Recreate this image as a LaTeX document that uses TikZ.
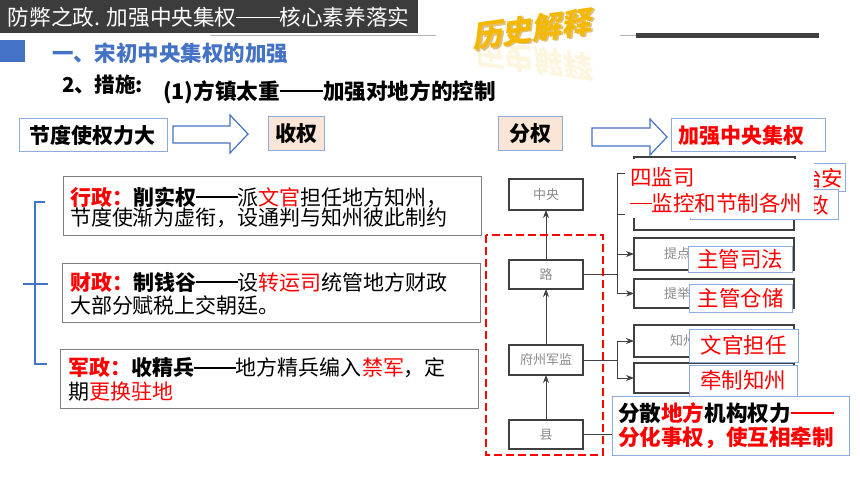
\documentclass[tikz,border=0pt]{standalone}
\usepackage{fontspec}
\setmainfont{Noto Sans CJK SC}
\newfontfamily\goldfont{Noto Sans CJK SC}[FakeSlant=0.25]
\usetikzlibrary{arrows.meta}
\definecolor{hdr}{HTML}{3C3C3C}
\definecolor{myblue}{HTML}{4472C4}
\definecolor{lblue}{HTML}{8FAADC}
\definecolor{peach}{HTML}{FBE5D6}
\definecolor{gold}{HTML}{F5B800}
\definecolor{goldd}{HTML}{C08000}
\definecolor{dgray}{HTML}{404040}
\definecolor{mgray}{HTML}{7F7F7F}
\definecolor{lgray}{HTML}{8A8A8A}
\newcommand\myfs[1]{\fontsize{#1pt}{#1pt}\selectfont}
% full-width dashes drawn as rules
\newcommand\dashn[1]{\rule[0.33em]{#1em}{0.06em}}
\newcommand\dashb[1]{\rule[0.32em]{#1em}{0.09em}}
\begin{document}
\begin{tikzpicture}[x=1pt,y=-1pt,
  every node/.style={inner sep=0pt,outer sep=0pt},
  bbox/.style={draw=lblue,line width=1pt,fill=white,rectangle,anchor=north west},
  pbox/.style={bbox,fill=peach},
  tbox/.style={draw=mgray,line width=1pt,rectangle,anchor=north west},
  obox/.style={draw=dgray,line width=1.1pt,fill=white,rectangle,anchor=north west},
  otext/.style={anchor=west,text=lgray,font=\myfs{13}},
  ctext/.style={text=lgray,font=\myfs{13}},
  lbox/.style={draw=lblue,line width=1pt,fill=white,rectangle,anchor=north west},
  tline/.style={anchor=west,font=\myfs{21}},
  rline/.style={anchor=west,text=red,font=\myfs{21.5}},
  conn/.style={draw=dgray,line width=0.9pt},
  arr/.style={conn,-{Stealth[length=8pt,width=6pt]}},
  blockarrow/.style={draw=myblue,line width=1.2pt,fill=white,line join=miter}
]
\useasboundingbox (0,0) rectangle (860,484);
\fill[white] (0,0) rectangle (860,484);

% header
\node[fill=hdr,minimum width=418pt,minimum height=33pt,anchor=north west] (hdr) at (0,0) {};
\node[anchor=west,text=white,font=\myfs{21.6}] (hdrt) at (8,17) {防弊之政. 加强中央集权\dashn{2}核心素养落实};
\draw[mgray!60,line width=0.8pt] (210,35) -- (436,35);
\draw[mgray!60,line width=0.8pt] (620,35) -- (636,35);
\draw[dgray,line width=5pt] (636,35.5) -- (819,35.5);

% golden title with reflection
\node[rotate=-8,yscale=-1,opacity=0.13,text=gold,font=\goldfont\bfseries\myfs{30}] (goldr) at (531,60) {历史解释};
\node[rotate=8,text=goldd,opacity=0.5,font=\goldfont\bfseries\myfs{30}] (golds) at (533,30.5) {历史解释};
\node[rotate=8,text=gold,font=\goldfont\bfseries\myfs{30}] (gold) at (531,29) {历史解释};

% section title
\node[fill=myblue,minimum width=25pt,minimum height=22pt,anchor=north west] (sq) at (0,40) {};
\node[anchor=west,text=myblue,font=\myfs{21.5}\bfseries] (t1) at (52,53) {一、宋初中央集权的加强};
\node[anchor=west,font=\myfs{20.5}\bfseries] (t2) at (62,85) {2、措施:};
\node[anchor=west,font=\myfs{21.6}\bfseries] (t3) at (163,92) {(1)方镇太重\dashb{2}加强对地方的控制};

% top row
\node[bbox,minimum width=148pt,minimum height=33pt] (jd) at (19,119) {};
\node[font=\myfs{21}\bfseries] (jdt) at (jd.center) {节度使权力大};
\draw[blockarrow] (173,126) -- (230,126) -- (230,115) -- (248,134) -- (230,153) -- (230,143) -- (173,143) -- cycle;
\node[pbox,minimum width=56pt,minimum height=34pt] (sq1) at (268,117) {};
\node[font=\myfs{21}\bfseries] (sq1t) at (sq1.center) {收权};
\node[pbox,minimum width=64pt,minimum height=34pt] (fq) at (498,117) {};
\node[font=\myfs{21}\bfseries] (fqt) at (fq.center) {分权};
\draw[blockarrow] (592,128) -- (650,128) -- (650,119) -- (667,137) -- (650,155) -- (650,146) -- (592,146) -- cycle;
\node[bbox,minimum width=154pt,minimum height=33pt] (jq) at (671,119) {};
\node[anchor=west,text=red,font=\myfs{21}\bfseries] (jqt) at (678,136) {加强中央集权};

% left bracket
\draw[myblue,line width=1.6pt] (45,202) -- (35,202) -- (35,364) -- (47,364);
\draw[myblue,line width=1.6pt] (23,284) -- (48,284);

% text boxes
\node[tbox,minimum width=418pt,minimum height=58pt] (b1) at (63,177) {};
\node[tline] (b1a) at (70,197) {{\color{red}\bfseries 行政：}{\bfseries 削实权\dashb{2}}派{\color{red}文官}担任地方知州，};
\node[tline] (b1b) at (70,218) {节度使渐为虚衔，设通判与知州彼此制约};
\node[tbox,minimum width=418pt,minimum height=59pt] (b2) at (62,263) {};
\node[tline] (b2a) at (70,282) {{\color{red}\bfseries 财政：}{\bfseries 制钱谷\dashb{2}}设{\color{red}转运司}统管地方财政};
\node[tline] (b2b) at (70,305) {大部分赋税上交朝廷。};
\node[tbox,minimum width=418pt,minimum height=59pt] (b3) at (60,349) {};
\node[tline] (b3a) at (68,368) {{\color{red}\bfseries 军政：}{\bfseries 收精兵\dashb{2}}地方精兵编入{\color{red}禁军}，定};
\node[tline] (b3b) at (68,392) {期{\color{red}更换驻地}};

% hierarchy diagram
\node[obox,minimum width=74pt,minimum height=31pt] (zy) at (509,179) {};
\node[ctext] at (zy.center) {中央};
\node[obox,minimum width=74pt,minimum height=29pt] (lu) at (509,260) {};
\node[ctext] at (lu.center) {路};
\node[obox,minimum width=74pt,minimum height=30pt] (fz) at (509,345) {};
\node[ctext] at (fz.center) {府州军监};
\node[obox,minimum width=74pt,minimum height=29pt] (xian) at (509,420) {};
\node[ctext] at (xian.center) {县};
\draw[arr] (lu.north) -- (zy.south);
\draw[arr] (fz.north) -- (lu.south);
\draw[arr] (xian.north) -- (fz.south);

\node[obox,minimum width=161pt,minimum height=33pt] (bA) at (634,157) {};
\node[obox,minimum width=160pt,minimum height=31pt] (bB) at (634,199) {};
\node[obox,minimum width=160pt,minimum height=32pt] (bC) at (634,238) {};
\node[otext] (bCt) at (664,254) {提点};
\node[obox,minimum width=160pt,minimum height=29pt] (bD) at (634,279) {};
\node[otext] (bDt) at (664,294) {提举};
\node[obox,minimum width=160pt,minimum height=32pt] (bE) at (634,325) {};
\node[otext] (bEt) at (670,341) {知州};
\node[obox,minimum width=160pt,minimum height=30pt] (bF) at (634,363) {};

\coordinate (ja) at (617,0);
\draw[conn] (lu.east) -- (lu.east -| ja);
\draw[conn] (ja |- bA.west) -- (ja |- bD.west);
\draw[arr] (ja |- bA.west) -- (bA.west);
\draw[arr] (ja |- bB.west) -- (bB.west);
\draw[arr] (ja |- bC.west) -- (bC.west);
\draw[arr] (ja |- bD.west) -- (bD.west);
\draw[conn] (fz.east) -- (fz.east -| ja);
\draw[conn] (ja |- bE.west) -- (ja |- bF.west);
\draw[arr] (ja |- bE.west) -- (bE.west);
\draw[arr] (ja |- bF.west) -- (bF.west);

% overlay labels
\node[lbox,minimum width=145pt,minimum height=28pt] (lA) at (700,164) {};
\node[anchor=east,text=red,font=\myfs{21.5}] (lAt) at (843,178) {治安};
\node[lbox,minimum width=148pt,minimum height=29pt] (lB) at (690,190) {};
\node[anchor=east,text=red,font=\myfs{21.5}] (lBt) at (829,205) {政};
\node[fill=white,minimum width=189pt,minimum height=59pt,anchor=north west] (sj) at (625,159) {};
\node[rline] (sj1) at (630,177) {四监司};
\node[rline] (sj2) at (630,203) {\dashn{1}监控和节制各州};

\node[lbox,minimum width=104pt,minimum height=26pt] (lC) at (688,246) {};
\node[text=red,font=\myfs{21.5}] at (lC.center) {主管司法};
\node[lbox,minimum width=103pt,minimum height=28pt] (lD) at (689,284) {};
\node[text=red,font=\myfs{21.5}] at (lD.center) {主管仓储};
\node[lbox,minimum width=109pt,minimum height=33pt] (lE) at (689,329) {};
\node[text=red,font=\myfs{21.5}] at (lE.center) {文官担任};
\node[lbox,minimum width=108pt,minimum height=31pt] (lF) at (689,365) {};
\node[text=red,font=\myfs{21.5}] at (lF.center) {牵制知州};

\node[lbox,minimum width=237pt,minimum height=59pt] (bot) at (612,396) {};
\node[anchor=west,font=\myfs{21.6}\bfseries] (bot1) at (618,413) {分散{\color{red}地方}机构权力{\color{red}\dashb{2}}};
\node[anchor=west,text=red,font=\myfs{21.6}\bfseries] (bot2) at (618,438) {分化事权，使互相牵制};
\draw[conn] (xian.east) -- (xian.east -| bot.west);

% red dashed frame
\draw[red,line width=2.6pt,dash pattern=on 8pt off 4pt] (486,235) rectangle (603,455);
\end{tikzpicture}
\end{document}
